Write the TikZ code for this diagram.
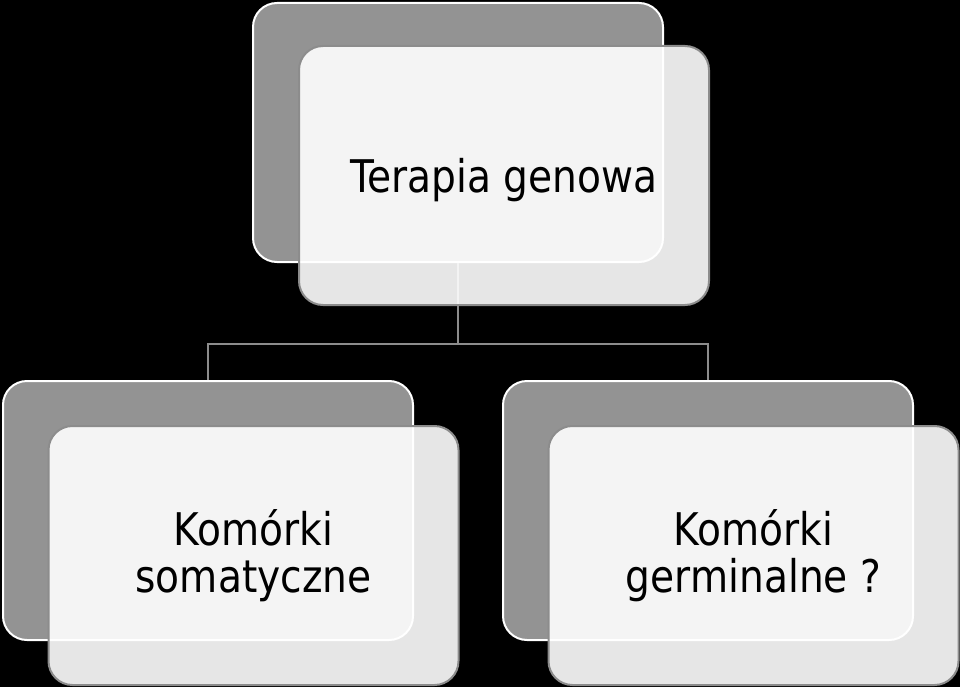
\documentclass[tikz,border=0pt]{standalone}
\usepackage{fontspec}
\setmainfont[FakeStretch=0.87]{DejaVu Sans}
\usetikzlibrary{positioning}

\definecolor{backfill}{HTML}{939393}
\definecolor{edgegray}{HTML}{8C8C8C}

\tikzset{
    backbox/.style={draw=white, line width=2pt, fill=backfill, rounded corners=24pt,
        minimum width=410pt, minimum height=259pt, inner sep=0pt},
    frontbox/.style={draw=edgegray, line width=2pt, fill=white, fill opacity=0.9,
        text opacity=1, rounded corners=24pt, minimum width=410pt, minimum height=259pt,
        inner sep=0pt, align=center, font=\fontsize{45}{47}\selectfont},
    link/.style={draw=edgegray, line width=2.2pt}
}

\begin{document}
\begin{tikzpicture}[x=1pt, y=-1pt]
    % tlo
    \fill[black] (0,0) rectangle (960,687);
    \useasboundingbox (0,0) rectangle (960,687);

    % tylne prostokaty
    \node[backbox] (topback) at (458,132.5) {};
    \node[backbox] (leftback) at (208,510.5) {};
    \node[backbox] (rightback) at (708,510.5) {};

    % polaczenia
    \draw[link] (topback.south) -- ++(0,81) coordinate (hub);
    \draw[link] (hub) -| (leftback.north);
    \draw[link] (hub) -| (rightback.north);

    % przednie prostokaty z tekstem
    \node[frontbox, text depth=0pt] (top) at (504,175.5) {Terapia genowa};
    \node[frontbox] (left) at (253.5,555.5) {Komórki\\somatyczne};
    \node[frontbox] (right) at (753.5,555.5) {Komórki\\germinalne ?};
\end{tikzpicture}
\end{document}
